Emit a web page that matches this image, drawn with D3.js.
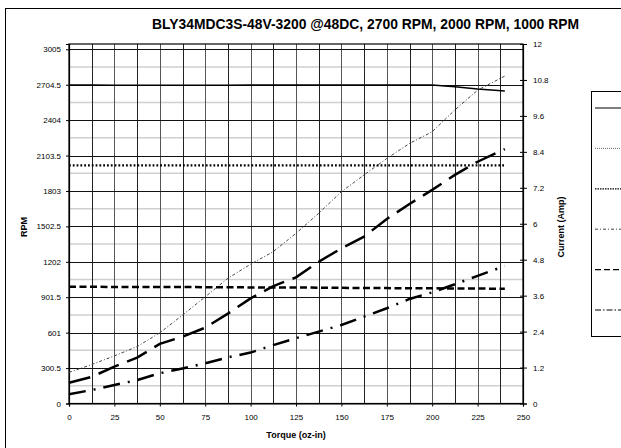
<!DOCTYPE html>
<html><head><meta charset="utf-8">
<script src="https://cdn.jsdelivr.net/npm/d3@7/dist/d3.min.js"></script>
<style>
html,body{margin:0;padding:0;background:#fff;overflow:hidden}
text{font-family:"Liberation Sans",Arial,sans-serif;fill:#000}
</style></head><body>
<svg id="c" width="621" height="448"></svg>
<script>
const title = "BLY34MDC3S-48V-3200 @48DC, 2700 RPM, 2000 RPM, 1000 RPM";
const torque = [0,12.5,25,37.5,50,62.5,75,87.5,100,112.5,125,137.5,150,162.5,175,187.5,200,212.5,225,240];
const rpm2700 = [2703,2702,2701,2701,2700,2700,2699,2700,2702,2702,2702,2702,2702,2702,2702,2702,2702,2688,2668,2651];
const rpm2000 = [2020,2020,2020,2020,2020,2020,2020,2020,2020,2020,2020,2020,2020,2020,2020,2020,2020,2020,2020,2020];
const rpm1000 = [990,990,989,989,988,988,987,986,985,984,984,983,981,980,979,978,977,976,975,974];
const amp2700 = [1.04,1.30,1.59,1.90,2.36,2.95,3.56,4.18,4.65,5.07,5.68,6.35,7.07,7.63,8.18,8.68,9.07,9.80,10.46,10.93];
const amp2000 = [0.69,0.89,1.23,1.53,1.99,2.23,2.53,3.00,3.51,3.92,4.21,4.73,5.18,5.57,6.16,6.66,7.13,7.63,8.07,8.49];
const amp1000 = [0.31,0.45,0.62,0.78,1.01,1.17,1.34,1.54,1.70,1.95,2.18,2.40,2.62,2.90,3.18,3.49,3.71,3.98,4.26,4.59];
const rpmTicks = [0,300.5,601,901.5,1202,1502.5,1803,2103.5,2404,2704.5,3005];
const ampTicks = [0,1.2,2.4,3.6,4.8,6,7.2,8.4,9.6,10.8,12];
const torqueTicks = [0,25,50,75,100,125,150,175,200,225,250];

const svg = d3.select("#c");
const L=69, R=523, T=44, B=403.5;
const x = d3.scaleLinear().domain([0,250]).range([L,R]);
const yL = d3.scaleLinear().domain([0,3050]).range([B,T]);
const yR = d3.scaleLinear().domain([0,12]).range([B,T]);

// outer chart border
svg.append("rect").attr("x",5.5).attr("y",8.5).attr("width",640).attr("height",460)
  .attr("fill","#fff").attr("stroke","#000").attr("stroke-width",1);

// minor horizontal gridlines
const minor = d3.range(0,10).map(k=>150.25*(2*k+1));
svg.append("g").selectAll("line").data(minor).join("line")
  .attr("x1",L).attr("x2",R).attr("y1",d=>yL(d)).attr("y2",d=>yL(d))
  .attr("stroke","#cfcfcf").attr("stroke-width",1.5);
// vertical gridlines
const vg = d3.range(1,20).map(k=>12.5*k);
svg.append("g").selectAll("line").data(vg).join("line")
  .attr("x1",d=>Math.round(x(d))+0.5).attr("x2",d=>Math.round(x(d))+0.5).attr("y1",T).attr("y2",B)
  .attr("stroke",(d,i)=> i%2? "#555":"#222").attr("stroke-width",1);
// major horizontal gridlines
svg.append("g").selectAll("line").data(rpmTicks.slice(1)).join("line")
  .attr("x1",L).attr("x2",R).attr("y1",d=>Math.round(yL(d))+0.5).attr("y2",d=>Math.round(yL(d))+0.5)
  .attr("stroke","#111").attr("stroke-width",1);

// frame
svg.append("rect").attr("x",L).attr("y",T).attr("width",R-L).attr("height",B-T)
  .attr("fill","none").attr("stroke","#000").attr("stroke-width",1.2);

// axes
const fs = "8px";
const ax = svg.append("g").attr("transform",`translate(0,${B})`)
  .call(d3.axisBottom(x).tickValues(torqueTicks).tickSize(3).tickPadding(8).tickFormat(d3.format("d")));
const al = svg.append("g").attr("transform",`translate(${L},0)`)
  .call(d3.axisLeft(yL).tickValues(rpmTicks).tickSize(3).tickPadding(5).tickFormat(d=>String(d)));
const ar = svg.append("g").attr("transform",`translate(${R},0)`)
  .call(d3.axisRight(yR).tickValues(ampTicks).tickSize(4).tickPadding(6).tickFormat(d=>String(d)));
[ax,al,ar].forEach(g=>{
  g.selectAll("text").style("font-size",fs).style("font-family","'Liberation Sans',Arial,sans-serif").attr("fill","#111");
  g.select(".domain").attr("stroke","#000").attr("stroke-width",1.2);
  g.selectAll(".tick line").attr("stroke","#000");
});
ar.selectAll(".tick line").attr("x1",-3);

// series
function line(yS, vals){
  return d3.line().x((d,i)=>x(torque[i])).y(d=>yS(d))(vals);
}
const series = [
  {v:amp2700, y:yR, w:1, c:"#444", dash:"3,2,1,2"},
  {v:rpm2000, y:yL, w:2.2, c:"#000", dash:"1.8,2"},
  {v:rpm1000, y:yL, w:2.5, c:"#000", dash:"7,3.5"},
  {v:amp1000, y:yR, w:2.5, c:"#000", dash:"17,8,2,8"},
  {v:amp2000, y:yR, w:2.5, c:"#000", dash:"22,9"},
  {v:rpm2700, y:yL, w:1.5, c:"#000", dash:null}
];
svg.append("g").selectAll("path").data(series).join("path")
  .attr("d",s=>line(s.y,s.v)).attr("fill","none")
  .attr("stroke",s=>s.c).attr("stroke-width",s=>s.w)
  .attr("stroke-dasharray",s=>s.dash);

// title
svg.append("text").attr("x",152).attr("y",29).attr("font-weight","bold").attr("font-size","14px")
  .attr("textLength",427).attr("lengthAdjust","spacingAndGlyphs").text(title);

// axis titles
svg.append("text").attr("x",296).attr("y",438).attr("text-anchor","middle")
  .attr("font-weight","bold").attr("font-size","9px").text("Torque (oz-in)");
svg.append("text").attr("transform","translate(27,227) rotate(-90)").attr("text-anchor","middle")
  .attr("font-weight","bold").attr("font-size","9px").text("RPM");
svg.append("text").attr("transform","translate(564,227) rotate(-90)").attr("text-anchor","middle")
  .attr("font-weight","bold").attr("font-size","9px").text("Current (Amp)");

// legend box (text falls outside the visible area)
const legendStyles = [
  {w:1.2, c:"#000", dash:null},
  {w:1, c:"#666", dash:"1,1"},
  {w:1.2, c:"#000", dash:"1.5,1"},
  {w:1, c:"#444", dash:"3,2,1,2"},
  {w:1.2, c:"#000", dash:"6,3"},
  {w:1.2, c:"#000", dash:"6,2,1.5,2"}
];
const lg = svg.append("g");
lg.append("rect").attr("x",591.5).attr("y",91.5).attr("width",60).attr("height",245)
  .attr("fill","#fff").attr("stroke","#000").attr("stroke-width",1);
const ly = d3.scalePoint().domain(d3.range(legendStyles.length)).range([108,310]);
lg.selectAll("line").data(legendStyles).join("line")
  .attr("x1",595).attr("x2",630).attr("y1",(d,i)=>ly(i)).attr("y2",(d,i)=>ly(i))
  .attr("stroke",d=>d.c).attr("stroke-width",d=>d.w).attr("stroke-dasharray",d=>d.dash);
</script>
</body></html>
